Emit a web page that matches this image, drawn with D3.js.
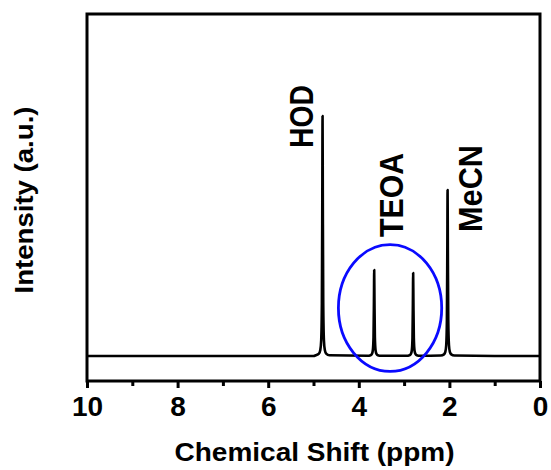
<!DOCTYPE html>
<html>
<head>
<meta charset="utf-8">
<script src="https://cdn.jsdelivr.net/npm/d3@7"></script>
<style>
  html, body { margin: 0; padding: 0; background: #fff; }
  svg { display: block; }
  text { font-family: Arial, "Liberation Sans", Helvetica, sans-serif; font-weight: bold; fill: #000; }
</style>
</head>
<body>
<svg id="chart" width="551" height="470"></svg>
<script>
// 1H NMR spectrum: chemical shift (ppm) and relative intensity
const ppm = [
  10.0, 5.0,
  4.95, 4.88, 4.85, 4.83, 4.815, 4.806, 4.80, 4.794, 4.785, 4.77, 4.75, 4.72, 4.65,
  3.81, 3.74, 3.71, 3.69, 3.675, 3.666, 3.66, 3.654, 3.645, 3.63, 3.61, 3.58, 3.51,
  2.95, 2.88, 2.85, 2.83, 2.815, 2.806, 2.80, 2.794, 2.785, 2.77, 2.75, 2.72, 2.65,
  2.19, 2.12, 2.09, 2.07, 2.055, 2.046, 2.04, 2.034, 2.025, 2.01, 1.99, 1.96, 1.89,
  1.0, 0.0
];
const intensity = [
  0, 0,
  0.003, 0.010, 0.025, 0.066, 0.221, 0.64, 1.0, 0.64, 0.221, 0.066, 0.025, 0.010, 0.003,
  0.001, 0.0035, 0.009, 0.024, 0.079, 0.229, 0.358, 0.229, 0.079, 0.024, 0.009, 0.0035, 0.001,
  0.001, 0.0034, 0.0087, 0.023, 0.076, 0.221, 0.346, 0.221, 0.076, 0.023, 0.0087, 0.0034, 0.001,
  0.002, 0.0069, 0.017, 0.046, 0.153, 0.443, 0.692, 0.443, 0.153, 0.046, 0.017, 0.0069, 0.002,
  0, 0
];

// peak assignments
const peakLabels = ["HOD", "TEOA", "MeCN"];
const labelShift = [5.01, 3.02, 1.28];
const labelMid = [0.998, 0.671, 0.698];

// highlighted TEOA region
const ringCenter = [3.31, 0.2];
const ringRadius = [1.14, 0.264];

const xTicks = [10, 8, 6, 4, 2, 0];
const xMinorTicks = [9, 7, 5, 3, 1];

const svg = d3.select("#chart");
const m = { left: 87, right: 540, top: 14, bottom: 381 };

const x = d3.scaleLinear().domain([10, 0]).range([m.left, m.right]);
const y = d3.scaleLinear().domain([-0.104, 1.425]).range([m.bottom, m.top]);

// spectrum trace
const pts = ppm.map((p, i) => [p, intensity[i]]);
svg.append("path")
  .datum(pts)
  .attr("fill", "none")
  .attr("stroke", "#000")
  .attr("stroke-width", 2.6)
  .attr("stroke-linejoin", "round")
  .attr("d", d3.line().x(d => x(d[0])).y(d => y(d[1])).curve(d3.curveMonotoneX));

// ellipse around the TEOA signals
svg.append("ellipse")
  .attr("cx", x(ringCenter[0]))
  .attr("cy", y(ringCenter[1]))
  .attr("rx", Math.abs(x(ringCenter[0] - ringRadius[0]) - x(ringCenter[0])))
  .attr("ry", Math.abs(y(ringCenter[1] + ringRadius[1]) - y(ringCenter[1])))
  .attr("fill", "none")
  .attr("stroke", "#0a0aff")
  .attr("stroke-width", 2.8);

// frame
svg.append("rect")
  .attr("x", m.left).attr("y", m.top)
  .attr("width", m.right - m.left).attr("height", m.bottom - m.top)
  .attr("fill", "none").attr("stroke", "#000").attr("stroke-width", 3);

// bottom axis, major and minor ticks
const axisG = svg.append("g").attr("transform", `translate(0,${m.bottom})`);
axisG.call(d3.axisBottom(x).tickValues(xTicks).tickSize(7).tickPadding(8).tickFormat(d3.format("d")));
axisG.select(".domain").remove();
axisG.selectAll(".tick line").attr("stroke", "#000").attr("stroke-width", 3);
axisG.selectAll(".tick text")
  .style("font-family", "Arial, 'Liberation Sans', sans-serif")
  .style("font-weight", "bold")
  .style("font-size", "28px")
  .attr("fill", "#000");
const minorG = svg.append("g").attr("transform", `translate(0,${m.bottom})`);
minorG.call(d3.axisBottom(x).tickValues(xMinorTicks).tickSize(5).tickFormat(""));
minorG.select(".domain").remove();
minorG.selectAll(".tick line").attr("stroke", "#000").attr("stroke-width", 3);

// axis titles
svg.append("text")
  .attr("x", (m.left + m.right) / 2 + 1)
  .attr("y", 461)
  .attr("text-anchor", "middle")
  .style("font-size", "26px")
  .attr("textLength", 280)
  .attr("lengthAdjust", "spacingAndGlyphs")
  .text("Chemical Shift (ppm)");

svg.append("text")
  .attr("transform", "translate(33,200) rotate(-90)")
  .attr("text-anchor", "middle")
  .style("font-size", "26px")
  .attr("textLength", 187)
  .attr("lengthAdjust", "spacingAndGlyphs")
  .text("Intensity (a.u.)");

// peak labels
const labelLen = [63, 84, 87];
peakLabels.forEach((t, i) => {
  svg.append("text")
    .attr("transform", `translate(${x(labelShift[i])},${y(labelMid[i])}) rotate(-90)`)
    .attr("text-anchor", "middle")
    .style("font-size", "33px")
    .attr("textLength", labelLen[i])
    .attr("lengthAdjust", "spacingAndGlyphs")
    .text(t);
});
</script>
</body>
</html>
